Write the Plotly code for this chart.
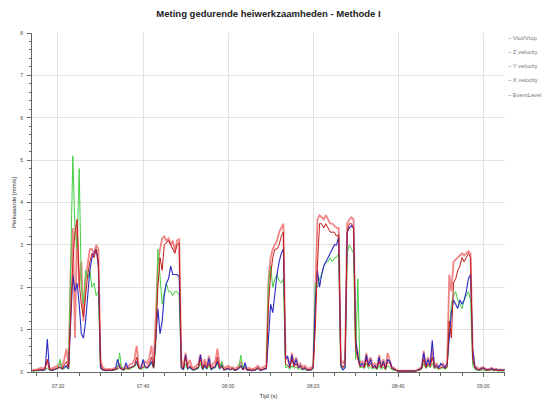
import pandas as pd
import plotly.graph_objects as go

# time grid: 30 s samples from 07:14:00 to 09:05:00
start_time = "2000-01-01 07:14:00"
n_samples = 223
times = pd.date_range(start_time, periods=n_samples, freq="30s")

series_names = ["Vtot/Vtop", "Z velocity", "Y velocity", "X velocity", "EventLevel"]

vtot = [0.05,0.05,0.06,0.08,0.1,0.08,0.12,0.25,0.1,0.08,0.1,0.12,0.15,0.2,0.12,0.3,0.55,0.15,
        2.4,3.4,0.8,3.5,2.0,2.6,1.2,2.2,2.6,2.9,2.9,2.8,3.0,2.9,
        0.3,0.1,0.08,0.06,0.07,0.06,0.08,0.1,0.12,0.2,0.1,0.08,0.15,0.12,0.18,0.2,0.3,0.62,0.15,0.12,0.2,0.25,0.2,0.35,0.62,0.15,1.3,
        2.6,2.9,3.15,3.2,3.1,3.15,3.0,3.1,2.85,3.1,3.15,
        0.3,0.12,0.45,0.15,0.28,0.12,0.1,0.15,0.2,0.42,0.12,0.3,0.15,0.38,0.12,0.2,0.25,0.55,0.15,0.22,0.1,0.12,0.15,0.1,0.12,0.08,0.1,0.15,0.25,0.1,0.12,0.08,0.1,0.06,0.08,0.1,0.15,0.08,0.1,0.12,0.15,
        2.2,2.7,2.9,3.0,3.1,3.3,3.4,3.5,
        0.35,0.3,0.15,0.45,0.2,0.35,0.15,0.2,0.12,0.15,0.1,0.08,0.1,0.15,
        1.8,3.6,3.7,3.65,3.6,3.7,3.6,3.5,3.5,3.45,3.4,3.4,0.3,0.2,0.3,3.5,3.6,3.65,3.6,
        0.7,0.45,0.2,0.25,0.15,0.45,0.2,0.35,0.15,0.2,0.12,0.4,0.15,0.3,0.1,0.45,0.3,0.12,0.1,0.05,0.03,0.03,0.02,0.03,0.02,0.03,0.03,0.02,0.03,0.05,0.08,0.12,0.5,0.15,0.35,0.2,0.55,0.15,0.2,0.12,0.15,0.2,0.12,0.2,
        2.3,1.9,2.6,2.65,2.7,2.75,2.8,2.75,2.8,2.85,2.8,
        0.5,0.15,0.1,0.08,0.1,0.12,0.08,0.06,0.08,0.1,0.06,0.08,0.05,0.06,0.05,0.06]

z_vel = [0.03,0.03,0.04,0.05,0.06,0.05,0.08,0.3,0.06,0.05,0.06,0.08,0.1,0.1,0.08,0.15,0.25,0.1,
         1.5,2.6,3.3,3.6,2.1,1.6,1.3,1.8,2.3,2.6,2.8,2.7,2.9,2.6,
         0.2,0.06,0.05,0.04,0.05,0.04,0.05,0.06,0.08,0.1,0.07,0.05,0.1,0.08,0.1,0.12,0.15,0.35,0.1,0.08,0.12,0.15,0.1,0.2,0.35,0.1,0.8,
         2.0,2.7,2.4,3.0,3.05,3.1,3.0,2.9,2.8,3.0,3.05,
         0.15,0.08,0.35,0.1,0.15,0.08,0.06,0.1,0.12,0.3,0.08,0.2,0.1,0.2,0.08,0.12,0.15,0.35,0.1,0.12,0.06,0.08,0.1,0.06,0.08,0.05,0.06,0.1,0.12,0.06,0.08,0.05,0.06,0.04,0.05,0.06,0.1,0.05,0.06,0.08,0.1,
         1.6,2.3,2.7,2.9,2.9,3.0,3.2,3.3,
         0.2,0.15,0.1,0.3,0.12,0.2,0.1,0.12,0.08,0.1,0.06,0.05,0.06,0.1,
         1.0,2.5,3.5,3.5,3.4,3.5,3.4,3.3,3.3,3.3,3.2,3.25,0.2,0.1,0.2,3.3,3.5,3.5,3.4,
         0.55,0.3,0.12,0.15,0.1,0.3,0.12,0.2,0.1,0.12,0.08,0.25,0.1,0.2,0.06,0.25,0.2,0.08,0.06,0.04,0.02,0.02,0.02,0.02,0.02,0.02,0.02,0.02,0.02,0.04,0.05,0.08,0.3,0.1,0.2,0.12,0.35,0.1,0.12,0.08,0.1,0.12,0.08,0.12,
         1.2,0.8,2.1,2.2,2.4,2.5,2.7,2.6,2.7,2.8,2.7,
         0.3,0.1,0.06,0.05,0.06,0.08,0.05,0.04,0.05,0.06,0.04,0.05,0.03,0.04,0.03,0.04]

y_vel = [0.02,0.02,0.03,0.03,0.04,0.03,0.05,0.1,0.04,0.03,0.05,0.06,0.08,0.3,0.06,0.08,0.12,0.06,
         3.0,5.1,3.4,2.9,4.8,2.0,1.6,2.4,2.2,2.4,2.0,2.1,1.8,1.9,
         0.1,0.04,0.03,0.03,0.04,0.03,0.04,0.05,0.06,0.45,0.06,0.04,0.08,0.06,0.07,0.1,0.12,0.2,0.08,0.06,0.1,0.1,0.08,0.15,0.2,0.08,0.6,
         2.9,2.2,1.6,1.9,2.1,1.9,1.9,1.8,1.9,1.9,1.8,
         0.08,0.05,0.2,0.06,0.1,0.05,0.04,0.06,0.08,0.2,0.05,0.12,0.06,0.15,0.05,0.08,0.1,0.2,0.06,0.25,0.04,0.05,0.08,0.05,0.1,0.04,0.05,0.08,0.4,0.05,0.2,0.04,0.05,0.03,0.04,0.05,0.08,0.04,0.05,0.06,0.08,
         2.1,2.5,2.0,2.2,2.3,2.15,2.1,2.2,
         0.1,0.12,0.06,0.15,0.08,0.12,0.06,0.08,0.05,0.06,0.04,0.04,0.05,0.08,
         2.1,2.0,2.2,2.3,2.5,2.6,2.6,2.7,2.6,2.7,2.7,2.8,0.1,0.05,0.1,2.8,3.0,2.9,2.8,
         0.3,2.2,0.1,0.12,0.08,0.2,0.08,0.12,0.06,0.1,0.05,0.15,0.06,0.12,0.05,0.15,0.1,0.05,0.04,0.03,0.02,0.02,0.01,0.02,0.01,0.02,0.02,0.01,0.02,0.03,0.04,0.06,0.2,0.08,0.15,0.1,0.2,0.08,0.1,0.06,0.08,0.1,0.06,0.1,
         1.0,1.6,1.8,1.9,1.7,1.6,1.5,1.7,1.8,1.9,1.7,
         0.15,0.06,0.04,0.03,0.04,0.05,0.03,0.03,0.04,0.05,0.03,0.04,0.02,0.03,0.02,0.03]

x_vel = [0.03,0.03,0.04,0.04,0.05,0.04,0.06,0.78,0.05,0.04,0.05,0.07,0.1,0.12,0.07,0.1,0.15,0.08,
         1.2,2.3,1.9,2.1,1.6,0.9,0.8,1.2,1.8,2.4,2.7,2.8,2.9,2.5,
         0.1,0.05,0.04,0.03,0.04,0.03,0.05,0.06,0.3,0.12,0.06,0.05,0.22,0.08,0.1,0.12,0.15,0.25,0.1,0.08,0.3,0.12,0.1,0.15,0.25,0.1,0.7,
         1.5,0.9,1.2,1.8,2.1,2.2,2.5,2.3,2.3,2.3,2.25,
         0.1,0.06,0.4,0.08,0.12,0.06,0.05,0.08,0.1,0.4,0.06,0.15,0.08,0.32,0.06,0.1,0.12,0.25,0.08,0.15,0.05,0.06,0.08,0.05,0.08,0.04,0.05,0.08,0.15,0.05,0.22,0.04,0.05,0.03,0.04,0.05,0.1,0.04,0.05,0.06,0.08,
         0.8,1.6,1.4,1.9,2.3,2.6,2.8,2.9,
         0.3,0.38,0.1,0.4,0.15,0.3,0.1,0.15,0.06,0.1,0.05,0.04,0.05,0.1,
         1.6,2.4,2.0,2.3,2.5,2.6,2.7,2.8,2.9,3.0,3.0,3.2,0.15,0.05,0.1,3.3,3.4,3.45,3.4,
         0.75,0.4,0.15,0.2,0.12,0.4,0.15,0.3,0.1,0.15,0.08,0.35,0.1,0.25,0.08,0.3,0.25,0.1,0.06,0.04,0.02,0.02,0.02,0.02,0.02,0.02,0.02,0.02,0.02,0.04,0.06,0.1,0.45,0.12,0.3,0.15,0.75,0.12,0.15,0.1,0.2,0.15,0.1,0.2,
         0.9,1.4,1.7,1.6,1.5,1.7,1.6,1.7,1.9,2.2,2.3,
         0.55,0.12,0.06,0.05,0.08,0.1,0.06,0.05,0.06,0.08,0.05,0.06,0.04,0.05,0.04,0.05]

for arr in (vtot, z_vel, y_vel, x_vel):
    assert len(arr) == n_samples, len(arr)

y_ticks = [0, 1, 2, 3, 4, 5, 6, 7, 8]
x_range = ["2000-01-01 07:13:54", "2000-01-01 09:05:06"]

FONT = "Liberation Sans, Arial, sans-serif"
W, H = 544, 410
L, R, T, B = 32, 39, 33, 27
PW, PH = W - L - R, H - T - B

fig = go.Figure()
fig.add_trace(go.Scatter(x=times, y=vtot, name=series_names[0], mode="lines",
                         line=dict(color="rgba(236,112,112,0.85)", width=1.8)))
fig.add_trace(go.Scatter(x=times, y=y_vel, name=series_names[2], mode="lines",
                         line=dict(color="#44d044", width=1)))
fig.add_trace(go.Scatter(x=times, y=x_vel, name=series_names[3], mode="lines",
                         line=dict(color="#2a2ac4", width=1.1)))
fig.add_trace(go.Scatter(x=times, y=z_vel, name=series_names[1], mode="lines",
                         line=dict(color="#c41c1c", width=1)))

# legend drawn as small text entries at the right (pixel positions on the page)
legend_x = 507
legend_y = [38.5, 53, 67.5, 82, 96.5]
for name, ypx in zip(series_names, legend_y):
    fig.add_annotation(text="– " + name, xref="paper", yref="paper",
                       x=(legend_x - L) / PW, y=(H - B - ypx) / PH,
                       xanchor="left", yanchor="middle", showarrow=False,
                       borderpad=0,
                       font=dict(family=FONT, size=5.8, color="#777"))

fig.update_layout(
    width=W, height=H,
    margin=dict(l=L, r=R, t=T, b=B, pad=0),
    paper_bgcolor="white", plot_bgcolor="white",
    showlegend=False,
    hovermode=False,
    title=dict(text="<b>Meting gedurende heiwerkzaamheden - Methode I</b>",
               x=0.5, xref="paper", xanchor="center",
               y=1 - 14 / H, yref="container", yanchor="middle",
               font=dict(family=FONT, size=9.5, color="#222")),
    font=dict(family=FONT, size=5, color="#444"),
)
fig.update_xaxes(
    range=x_range, type="date",
    tickformat="%H:%M", dtick=20 * 60 * 1000, tick0="2000-01-01 07:20",
    showgrid=True, gridcolor="#e2e2e2", gridwidth=1,
    showline=True, linecolor="#666", linewidth=1,
    ticks="outside", ticklen=4, tickcolor="#666",
    minor=dict(dtick=5 * 60 * 1000, ticks="outside", ticklen=3, tickcolor="#666", showgrid=False),
    tickfont=dict(size=5, color="#444"),
    ticklabelstandoff=5,
    title=dict(text="Tijd (s)", font=dict(size=6, color="#333"), standoff=5),
    zeroline=False,
)
fig.update_yaxes(
    range=[0, 8], tickvals=y_ticks,
    showgrid=True, gridcolor="#e2e2e2", gridwidth=1,
    showline=True, linecolor="#666", linewidth=1,
    ticks="outside", ticklen=4, tickcolor="#666",
    minor=dict(dtick=0.2, ticks="outside", ticklen=2, tickcolor="#666", showgrid=False),
    tickfont=dict(size=5, color="#444"),
    ticklabelstandoff=3,
    title=dict(text="Piekwaarde [mm/s]", font=dict(size=6, color="#333"), standoff=3),
    zeroline=False,
)

# no modebar; remove the default 8px page margin so the figure fills the window exactly
fig.write_html("out.html", config={"displayModeBar": False},
               post_script="document.body.style.margin='0';")
